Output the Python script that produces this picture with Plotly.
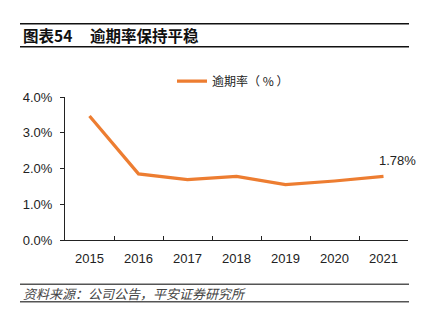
import plotly.graph_objects as go

years = ["2015", "2016", "2017", "2018", "2019", "2020", "2021"]
overdue_rate = [3.47, 1.85, 1.69, 1.78, 1.55, 1.65, 1.78]
y_ticks = [0, 1, 2, 3, 4]
y_tick_labels = ["0.0%", "1.0%", "2.0%", "3.0%", "4.0%"]

W, H = 432, 321
L, R, T, B = 65, 24, 97, 80.5
pw, ph = W - L - R, H - T - B


def px(x):
    return (x - L) / pw


def py(y):
    return (H - B - y) / ph


CJK = "Noto Sans CJK SC, Arial, sans-serif"
NUM = "Liberation Sans, Arial, sans-serif"
ORANGE = "#ED7D31"

fig = go.Figure()
fig.add_trace(go.Scatter(
    x=years, y=overdue_rate, mode="lines", name="逾期率（ % ）",
    line=dict(color=ORANGE, width=3.2),
))

fig.update_layout(
    width=W, height=H,
    margin=dict(l=L, r=R, t=T, b=B),
    paper_bgcolor="white", plot_bgcolor="white",
    showlegend=True,
    legend=dict(orientation="h", x=px(172), y=py(81), xanchor="left", yanchor="middle",
                font=dict(family=CJK, size=12, color="#222"), bgcolor="rgba(0,0,0,0)"),
    xaxis=dict(type="category", range=[-0.5, 6.5], showline=True, linecolor="#222", linewidth=1,
               ticks="inside", tickson="boundaries", ticklen=4, tickcolor="#222",
               ticklabelstandoff=6,
               showgrid=False, tickfont=dict(family=NUM, size=13, color="#222")),
    yaxis=dict(range=[0, 4], tickvals=y_ticks, ticktext=y_tick_labels, showline=True,
               linecolor="#222", linewidth=1, ticks="outside", ticklen=4, tickcolor="#222",
               ticklabelstandoff=5,
               showgrid=False, zeroline=False, tickfont=dict(family=NUM, size=13, color="#222")),
)

# value label for the latest year
last = len(years) - 1
fig.add_annotation(xref="x", yref="y", x=last, y=overdue_rate[last],
                   text=f"{overdue_rate[last]:.2f}%",
                   showarrow=False, yanchor="bottom", xshift=14, yshift=6,
                   font=dict(family=NUM, size=13, color="#222"))

# header
fig.add_annotation(xref="paper", yref="paper", x=px(21), y=py(35), xanchor="left", yanchor="middle",
                   text="<b>图表54</b>", showarrow=False,
                   font=dict(family=CJK, size=15.5, color="#111"))
fig.add_annotation(xref="paper", yref="paper", x=px(88), y=py(35), xanchor="left", yanchor="middle",
                   text="<b>逾期率保持平稳</b>", showarrow=False,
                   font=dict(family=CJK, size=15.5, color="#111"))
# footer
fig.add_annotation(xref="paper", yref="paper", x=px(21), y=py(294), xanchor="left", yanchor="middle",
                   text="<i>资料来源：公司公告，平安证券研究所</i>", showarrow=False,
                   font=dict(family=CJK, size=13, color="#444"))

for yy, c in [(23.5, "#111"), (46.5, "#111"), (285, "#555"), (302.5, "#555")]:
    fig.add_shape(type="line", xref="paper", yref="paper", x0=px(20), x1=px(409), y0=py(yy), y1=py(yy),
                  line=dict(color=c, width=1.5))

fig.write_html("out.html")
